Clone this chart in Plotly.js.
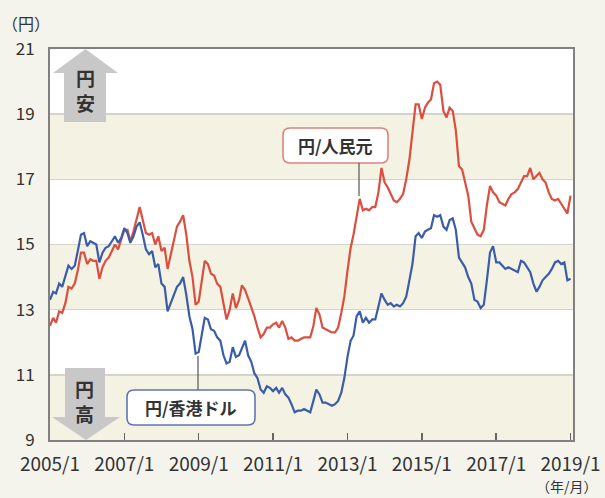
<!DOCTYPE html>
<html><head><meta charset="utf-8">
<script src="https://cdn.plot.ly/plotly-3.0.1.min.js"></script>
<style>html,body{margin:0;padding:0;background:#f4f3ec;}#chart{width:605px;height:498px;}</style>
</head><body><div id="chart"></div>
<script>
// ---- data (monthly, 2005/1 .. 2019/1), yen per unit ----
const startYear = 2005;
const hkdJpy = [
  13.3, 13.55, 13.5, 13.8, 13.7, 14.0, 14.35, 14.25, 14.35, 14.8, 15.3, 15.35,
  14.95, 15.1, 15.05, 15.0, 14.45, 14.75, 14.9, 14.95, 15.1, 15.25, 15.05, 15.2,
  15.5, 15.35, 15.05, 15.25, 15.55, 15.68, 15.3, 14.85, 14.7, 14.8, 14.3, 14.4,
  13.8, 13.7, 12.95, 13.2, 13.4, 13.7, 13.8, 14.0, 13.45, 12.8, 12.4, 11.65,
  11.7, 12.25, 12.75, 12.7, 12.4, 12.35, 12.15, 12.05, 11.6, 11.35, 11.4, 11.85,
  11.55, 11.6, 11.8, 12.05, 11.6, 11.4, 11.05, 10.9, 10.55, 10.45, 10.65, 10.6,
  10.5, 10.6, 10.45, 10.6, 10.4, 10.3, 10.1, 9.85, 9.9, 9.9, 9.95, 9.9,
  9.85, 10.2, 10.55, 10.4, 10.15, 10.15, 10.1, 10.05, 10.1, 10.2, 10.45, 10.9,
  11.55, 12.05, 12.2, 12.8, 12.95, 12.6, 12.75, 12.6, 12.7, 12.7, 13.1, 13.5,
  13.3, 13.15, 13.2, 13.1, 13.15, 13.1, 13.2, 13.4, 13.9, 14.4, 15.25, 15.35,
  15.2, 15.4, 15.45, 15.5, 15.9, 15.85, 15.9, 15.55, 15.45, 15.75, 15.8, 15.45,
  14.6, 14.45, 14.3, 14.0, 13.8, 13.3, 13.25, 13.05, 13.15, 13.9, 14.75, 14.95,
  14.45, 14.45, 14.35, 14.25, 14.3, 14.25, 14.2, 14.15, 14.5, 14.45, 14.3, 14.15,
  13.8, 13.55, 13.7, 13.9, 14.0, 14.1, 14.25, 14.45, 14.5, 14.4, 14.45, 13.9,
  13.95
];
const cnyJpy = [
  12.5, 12.75, 12.6, 12.95, 12.9, 13.2, 13.7, 13.65, 13.8, 14.2, 14.75, 14.75,
  14.4, 14.55, 14.5, 14.5, 13.95, 14.3, 14.5, 14.6, 14.8, 15.0, 14.85, 15.15,
  15.45, 15.45, 15.1, 15.4, 15.8, 16.15, 15.75, 15.35, 15.3, 15.35, 15.0, 15.25,
  14.8, 14.9, 14.25, 14.7, 15.1, 15.55, 15.7, 15.9, 15.3, 14.5, 14.0, 13.15,
  13.25, 13.95, 14.5, 14.4, 14.1, 14.05, 13.8, 13.7, 13.2, 12.7, 13.0, 13.5,
  13.05, 13.3, 13.75, 13.6, 13.35, 13.1, 12.8, 12.45, 12.15, 12.25, 12.45, 12.45,
  12.55, 12.6, 12.45, 12.65, 12.45, 12.1, 12.15, 12.05, 12.05, 12.1, 12.15, 12.15,
  12.15, 12.5, 13.05, 12.85, 12.45, 12.4, 12.35, 12.3, 12.3, 12.45, 12.9, 13.4,
  14.2, 14.9, 15.3, 15.8, 16.4, 16.05, 16.1, 16.05, 16.15, 16.15, 16.6, 17.35,
  16.9, 16.75, 16.55, 16.35, 16.3, 16.4, 16.55, 17.0, 17.6, 18.5, 19.3, 19.3,
  18.85, 19.2, 19.35, 19.45, 19.95, 20.0, 19.9, 19.1, 18.9, 19.2, 19.1, 18.5,
  17.4, 17.3, 16.9, 16.5, 15.7, 15.5, 15.3, 15.25, 15.45, 16.2, 16.8, 16.6,
  16.5, 16.3, 16.25, 16.2, 16.4, 16.55, 16.6, 16.7, 16.9, 17.1, 17.1, 17.35,
  17.0, 17.1, 17.2, 17.0, 16.9, 16.6, 16.4, 16.35, 16.4, 16.25, 16.1, 15.95,
  16.5
];
const xTickVals = ['2005-01-01','2007-01-01','2009-01-01','2011-01-01','2013-01-01','2015-01-01','2017-01-01','2019-01-01'];
const xTickText = ['2005/1','2007/1','2009/1','2011/1','2013/1','2015/1','2017/1','2019/1'];
const yTickVals = [9, 11, 13, 15, 17, 19, 21];
const bandRanges = [[9, 11], [13, 15], [17, 19]];
const seriesNames = ['円/人民元', '円/香港ドル'];

const months = hkdJpy.map((_, i) => {
  const y = startYear + Math.floor(i / 12), m = (i % 12) + 1;
  return y + '-' + String(m).padStart(2, '0') + '-01';
});

// ---- layout helpers ----
const W = 605, H = 498, M = {l: 50, r: 32, t: 49, b: 58};
const px = x => (x - M.l) / (W - M.l - M.r);
const py = y => (H - M.b - y) / (H - M.t - M.b);
const P = (x, y) => px(x).toFixed(5) + ',' + py(y).toFixed(5);
function poly(pts) { return 'M ' + pts.map(p => P(p[0], p[1])).join(' L ') + ' Z'; }
function rrect(x0, y0, x1, y1, r) {
  return 'M ' + P(x0 + r, y0) + ' L ' + P(x1 - r, y0) + ' Q ' + P(x1, y0) + ' ' + P(x1, y0 + r) +
    ' L ' + P(x1, y1 - r) + ' Q ' + P(x1, y1) + ' ' + P(x1 - r, y1) +
    ' L ' + P(x0 + r, y1) + ' Q ' + P(x0, y1) + ' ' + P(x0, y1 - r) +
    ' L ' + P(x0, y0 + r) + ' Q ' + P(x0, y0) + ' ' + P(x0 + r, y0) + ' Z';
}
const FONT = '"Noto Sans CJK JP", "Noto Sans", sans-serif';
const RED = '#dc4e3e', BLUE = '#3b5ca8', ARROW = '#c8c8c8';

const shapes = bandRanges.map(b => ({
  type: 'rect', xref: 'paper', yref: 'y', x0: 0, x1: 1, y0: b[0], y1: b[1],
  fillcolor: '#f4f2e3', line: {width: 0}, layer: 'below'
}));
// up arrow (円安)
shapes.push({type: 'path', xref: 'paper', yref: 'paper', layer: 'above', fillcolor: ARROW, line: {width: 0},
  path: poly([[85.5, 49], [118, 73], [106, 73], [106, 122], [64, 122], [64, 73], [53, 73]])});
// down arrow (円高)
shapes.push({type: 'path', xref: 'paper', yref: 'paper', layer: 'above', fillcolor: ARROW, line: {width: 0},
  path: poly([[65, 368], [105, 368], [105, 417], [120, 417], [86, 440], [52, 417], [65, 417]])});
// label boxes
shapes.push({type: 'path', xref: 'paper', yref: 'paper', layer: 'above', fillcolor: '#ffffff',
  line: {color: '#d8857c', width: 1.6}, path: rrect(283, 128, 388, 163, 7)});
shapes.push({type: 'path', xref: 'paper', yref: 'paper', layer: 'above', fillcolor: '#ffffff',
  line: {color: '#6076b4', width: 1.6}, path: rrect(127, 390, 255, 425, 7)});
// leader lines
shapes.push({type: 'line', xref: 'paper', yref: 'paper', layer: 'above', x0: px(359), x1: px(359), y0: py(163), y1: py(196),
  line: {color: '#555', width: 1.2}});
shapes.push({type: 'line', xref: 'paper', yref: 'paper', layer: 'above', x0: px(198), x1: px(198), y0: py(356), y1: py(390),
  line: {color: '#555', width: 1.2}});

function txt(text, x, y, size, opts) {
  return Object.assign({xref: 'paper', yref: 'paper', x: px(x), y: py(y), text: text, showarrow: false,
    xanchor: 'center', yanchor: 'middle', borderpad: 0, font: {family: FONT, size: size, color: '#333'}}, opts || {});
}
const annotations = [
  txt('<b>円<br>安</b>', 85, 90, 19),
  txt('<b>円<br>高</b>', 84, 401, 19),
  txt('<b>' + seriesNames[0] + '</b>', 335.5, 145.5, 17),
  txt('<b>' + seriesNames[1] + '</b>', 191, 407.5, 17),
  txt('（円）', 26, 23, 16),
  txt('（年/月）', 567, 486, 14)
];

const traces = [
  {x: months, y: cnyJpy, name: seriesNames[0], type: 'scatter', mode: 'lines', line: {color: RED, width: 2.2}},
  {x: months, y: hkdJpy, name: seriesNames[1], type: 'scatter', mode: 'lines', line: {color: BLUE, width: 2.2}}
];

const layout = {
  width: W, height: H, margin: M,
  paper_bgcolor: '#f4f3ec', plot_bgcolor: '#ffffff',
  showlegend: false, hovermode: false,
  font: {family: FONT, color: '#333'},
  xaxis: {type: 'date', range: ['2005-01-01', '2019-01-25'], tickvals: xTickVals, ticktext: xTickText,
    ticks: 'inside', ticklen: 7, tickwidth: 1.5, tickcolor: '#666', showgrid: false, zeroline: false,
    showline: true, linecolor: '#808080', linewidth: 2, mirror: true,
    tickfont: {family: FONT, size: 19, color: '#333'}, ticklabelstandoff: 6},
  yaxis: {range: [9, 21], tickvals: yTickVals, ticks: '', showgrid: true, gridcolor: '#d4d4cc', gridwidth: 1.5,
    zeroline: false, showline: true, linecolor: '#808080', linewidth: 2, mirror: true,
    tickfont: {family: FONT, size: 17, color: '#333'}, ticklabelstandoff: 10},
  shapes: shapes, annotations: annotations
};
Plotly.newPlot('chart', traces, layout, {staticPlot: true, displayModeBar: false});
</script></body></html>
